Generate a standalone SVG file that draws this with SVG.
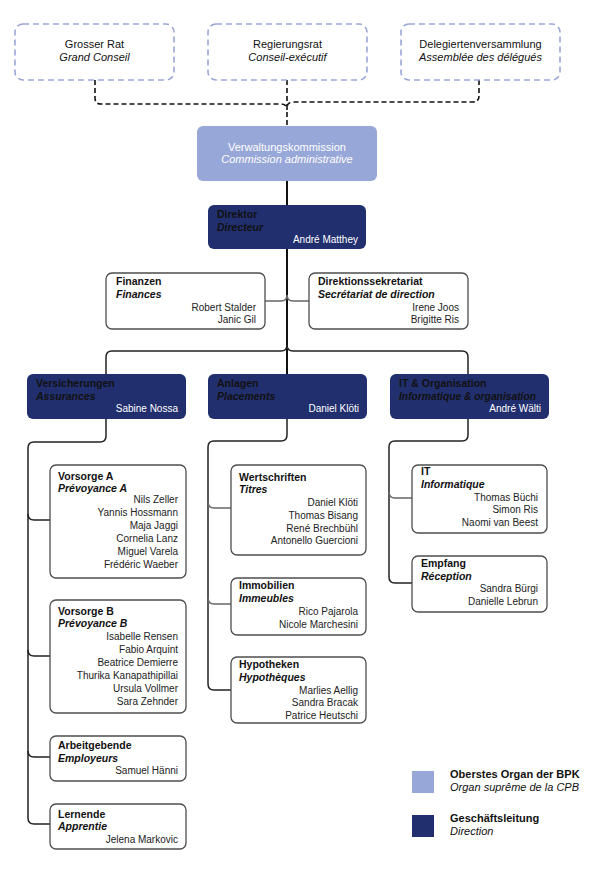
<svg xmlns="http://www.w3.org/2000/svg" width="601" height="870" viewBox="0 0 601 870">
<style>
text{font-family:"Liberation Sans",Arial,sans-serif;}
.top{fill:#fff;stroke:#9aa6d8;stroke-width:1.6;stroke-dasharray:6 4;}
.vk{fill:#97a7d7;}
.dk{fill:#212f6f;}
.box{fill:#fff;stroke:#4d4d4d;stroke-width:1.3;}
.tt{font-size:11px;fill:#111;text-anchor:middle;}
.ti{font-size:11px;fill:#111;font-style:italic;text-anchor:middle;}
.w{fill:#fff;}
.b{font-size:10.5px;font-weight:bold;fill:#111;}
.bi{font-size:10.5px;font-weight:bold;font-style:italic;fill:#111;}
.n{font-size:10px;fill:#222;text-anchor:end;}
.wn{font-size:10px;fill:#fff;text-anchor:end;}
.dash{fill:none;stroke:#111;stroke-width:1.6;stroke-dasharray:5 3;}
.main{fill:none;stroke:#111;stroke-width:2;}
.con{fill:none;stroke:#222;stroke-width:1.5;}
.gcon{fill:none;stroke:#666;stroke-width:1.5;}
.lg{font-size:11px;font-weight:bold;fill:#111;}
.lgi{font-size:11px;font-style:italic;fill:#111;}
</style>
<g id="connectors">
<path class="dash" d="M95,80 V98 Q95,104 101,104 H281 Q287,104 287,110"/>
<path class="dash" d="M479,80 V96 Q479,102 473,102 H293 Q287,102 287,108"/>
<path class="dash" d="M287,80 V126"/>
<path class="main" d="M287,181 V205"/>
<path class="main" d="M287,249 V374"/>
<path class="gcon" d="M265,301 H281 Q287,301 287,295"/>
<path class="gcon" d="M309,301 H293 Q287,301 287,295"/>
<path class="con" d="M287,345 Q287,351 281,351 H112 Q106,351 106,357 V374"/>
<path class="con" d="M287,345 Q287,351 293,351 H462 Q468,351 468,357 V374"/>
<path class="con" d="M106,419 V436 Q106,442 100,442 H34 Q28,442 28,448 V818 Q28,824 34,824 H50"/>
<path class="con" d="M28,514 Q28,520 34,520 H50"/>
<path class="con" d="M28,650 Q28,656 34,656 H50"/>
<path class="con" d="M28,751 Q28,757 34,757 H50"/>
<path class="con" d="M287,419 V435 Q287,441 281,441 H214 Q208,441 208,447 V684 Q208,690 214,690 H231"/>
<path class="gcon" d="M208,502 Q208,508 214,508 H231"/>
<path class="gcon" d="M208,598 Q208,604 214,604 H231"/>
<path class="con" d="M468,419 V435 Q468,441 462,441 H395 Q389,441 389,447 V577 Q389,583 395,583 H412"/>
<path class="gcon" d="M389,492 Q389,498 395,498 H412"/>
</g>
<g id="grosser-rat">
<rect class="top" x="15" y="24" width="159" height="56" rx="8"/>
<text class="tt" x="94.5" y="48">Grosser Rat</text>
<text class="ti" x="94.5" y="61">Grand Conseil</text>
</g>
<g id="regierungsrat">
<rect class="top" x="208" y="24" width="159" height="56" rx="8"/>
<text class="tt" x="287.5" y="48">Regierungsrat</text>
<text class="ti" x="287.5" y="61">Conseil-exécutif</text>
</g>
<g id="delegiertenversammlung">
<rect class="top" x="401" y="24" width="159" height="56" rx="8"/>
<text class="tt" x="480.5" y="48">Delegiertenversammlung</text>
<text class="ti" x="480.5" y="61">Assemblée des délégués</text>
</g>
<g id="verwaltungskommission">
<rect class="vk" x="197" y="126" width="180" height="55" rx="6"/>
<text class="tt w" x="287" y="151">Verwaltungskommission</text>
<text class="ti w" x="287" y="163">Commission administrative</text>
</g>
<g id="direktor">
<rect class="dk" x="208" y="205" width="158" height="44" rx="6"/>
<text class="b w" x="217" y="218">Direktor</text>
<text class="bi w" x="217" y="231">Directeur</text>
<text class="wn" x="358" y="243">André Matthey</text>
</g>
<g id="finanzen">
<rect class="box" x="106" y="273" width="159" height="56" rx="6"/>
<text class="b" x="116" y="285">Finanzen</text>
<text class="bi" x="116" y="298">Finances</text>
<text class="n" x="256" y="311">Robert Stalder</text>
<text class="n" x="256" y="323">Janic Gil</text>
</g>
<g id="direktionssekretariat">
<rect class="box" x="309" y="273" width="159" height="56" rx="6"/>
<text class="b" x="318" y="285">Direktionssekretariat</text>
<text class="bi" x="318" y="298">Secrétariat de direction</text>
<text class="n" x="459" y="311">Irene Joos</text>
<text class="n" x="459" y="323">Brigitte Ris</text>
</g>
<g id="versicherungen">
<rect class="dk" x="27" y="374" width="159" height="45" rx="6"/>
<text class="b w" x="36" y="387">Versicherungen</text>
<text class="bi w" x="36" y="400">Assurances</text>
<text class="wn" x="178" y="412">Sabine Nossa</text>
</g>
<g id="anlagen">
<rect class="dk" x="208" y="374" width="159" height="45" rx="6"/>
<text class="b w" x="217" y="387">Anlagen</text>
<text class="bi w" x="217" y="400">Placements</text>
<text class="wn" x="359" y="412">Daniel Klöti</text>
</g>
<g id="it-organisation">
<rect class="dk" x="390" y="374" width="159" height="45" rx="6"/>
<text class="b w" x="399" y="387">IT &amp; Organisation</text>
<text class="bi w" x="399" y="400" textLength="137" lengthAdjust="spacingAndGlyphs">Informatique &amp; organisation</text>
<text class="wn" x="541" y="412">André Wälti</text>
</g>
<g id="vorsorge-a">
<rect class="box" x="50" y="465" width="136" height="113" rx="6"/>
<text class="b" x="58" y="480">Vorsorge A</text>
<text class="bi" x="58" y="492">Prévoyance A</text>
<text class="n" x="178" y="503">Nils Zeller</text>
<text class="n" x="178" y="516">Yannis Hossmann</text>
<text class="n" x="178" y="529">Maja Jaggi</text>
<text class="n" x="178" y="542">Cornelia Lanz</text>
<text class="n" x="178" y="555">Miguel Varela</text>
<text class="n" x="178" y="568">Frédéric Waeber</text>
</g>
<g id="vorsorge-b">
<rect class="box" x="50" y="600" width="136" height="113" rx="6"/>
<text class="b" x="58" y="615">Vorsorge B</text>
<text class="bi" x="58" y="627">Prévoyance B</text>
<text class="n" x="178" y="640">Isabelle Rensen</text>
<text class="n" x="178" y="653">Fabio Arquint</text>
<text class="n" x="178" y="666">Beatrice Demierre</text>
<text class="n" x="178" y="679">Thurika Kanapathipillai</text>
<text class="n" x="178" y="692">Ursula Vollmer</text>
<text class="n" x="178" y="705">Sara Zehnder</text>
</g>
<g id="arbeitgebende">
<rect class="box" x="50" y="736" width="136" height="45" rx="6"/>
<text class="b" x="58" y="749">Arbeitgebende</text>
<text class="bi" x="58" y="761.5">Employeurs</text>
<text class="n" x="178" y="774">Samuel Hänni</text>
</g>
<g id="lernende">
<rect class="box" x="50" y="804" width="136" height="45" rx="6"/>
<text class="b" x="58" y="817.5">Lernende</text>
<text class="bi" x="58" y="830">Apprentie</text>
<text class="n" x="178" y="842.5">Jelena Markovic</text>
</g>
<g id="wertschriften">
<rect class="box" x="231" y="465" width="135" height="90" rx="6"/>
<text class="b" x="239" y="481">Wertschriften</text>
<text class="bi" x="239" y="493">Titres</text>
<text class="n" x="358" y="506">Daniel Klöti</text>
<text class="n" x="358" y="519">Thomas Bisang</text>
<text class="n" x="358" y="531.5">René Brechbühl</text>
<text class="n" x="358" y="544">Antonello Guercioni</text>
</g>
<g id="immobilien">
<rect class="box" x="231" y="578" width="135" height="57" rx="6"/>
<text class="b" x="239" y="589">Immobilien</text>
<text class="bi" x="239" y="602">Immeubles</text>
<text class="n" x="358" y="615">Rico Pajarola</text>
<text class="n" x="358" y="628">Nicole Marchesini</text>
</g>
<g id="hypotheken">
<rect class="box" x="231" y="657" width="135" height="66" rx="6"/>
<text class="b" x="239" y="668">Hypotheken</text>
<text class="bi" x="239" y="681">Hypothèques</text>
<text class="n" x="358" y="694">Marlies Aellig</text>
<text class="n" x="358" y="706">Sandra Bracak</text>
<text class="n" x="358" y="719">Patrice Heutschi</text>
</g>
<g id="it">
<rect class="box" x="412" y="465" width="135" height="68" rx="6"/>
<text class="b" x="421" y="474.5">IT</text>
<text class="bi" x="421" y="487.5">Informatique</text>
<text class="n" x="538" y="500.5">Thomas Büchi</text>
<text class="n" x="538" y="513">Simon Ris</text>
<text class="n" x="538" y="526">Naomi van Beest</text>
</g>
<g id="empfang">
<rect class="box" x="412" y="556" width="135" height="56" rx="6"/>
<text class="b" x="421" y="567">Empfang</text>
<text class="bi" x="421" y="579.5">Réception</text>
<text class="n" x="538" y="592">Sandra Bürgi</text>
<text class="n" x="538" y="605">Danielle Lebrun</text>
</g>
<g id="legend">
<rect class="vk" x="412" y="771" width="22" height="22"/>
<text class="lg" x="450" y="778">Oberstes Organ der BPK</text>
<text class="lgi" x="450" y="791">Organ suprême de la CPB</text>
<rect class="dk" x="412" y="815" width="22" height="22"/>
<text class="lg" x="450" y="822">Geschäftsleitung</text>
<text class="lgi" x="450" y="835">Direction</text>
</g>
</svg>
